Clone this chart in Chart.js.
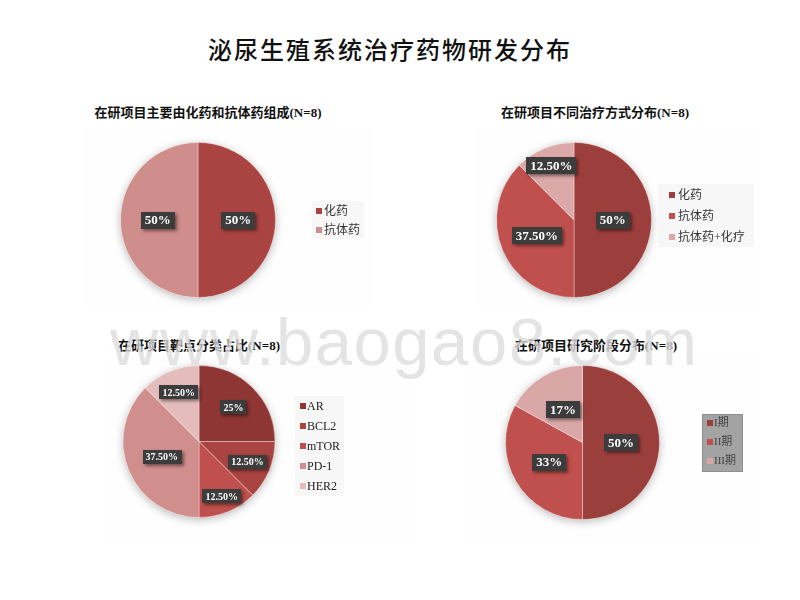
<!DOCTYPE html>
<html><head><meta charset="utf-8">
<script src="https://cdn.jsdelivr.net/npm/chart.js@4.4.0/dist/chart.umd.min.js"></script>
<style>
html,body{margin:0;padding:0;background:#fff;width:800px;height:600px;overflow:hidden;position:relative;font-family:"Liberation Serif","Noto Sans CJK SC",serif;}
.t{position:absolute;white-space:nowrap;transform:translateX(-50%);color:#111;}
.main{font-size:24px;letter-spacing:2px;font-weight:500;left:390px;top:31px;}
.sub{font-size:13px;font-weight:bold;}
canvas{position:absolute;}
.wm{position:absolute;left:110px;top:303px;font-family:"Liberation Sans",Arial,sans-serif;font-size:67px;color:rgba(220,220,220,0.78);letter-spacing:1.5px;white-space:nowrap;}
</style></head>
<body>
<div class="t main">泌尿生殖系统治疗药物研发分布</div>
<div class="t sub" style="left:208px;top:102px">在研项目主要由化药和抗体药组成(N=8)</div>
<div class="t sub" style="left:595px;top:102px">在研项目不同治疗方式分布(N=8)</div>
<div class="t sub" style="left:199px;top:335px">在研项目靶点分类占比(N=8)</div>
<div class="t sub" style="left:596px;top:335px">在研项目研究阶段分布(N=8)</div>
<canvas id="c1" width="290" height="180" style="left:83px;top:128px"></canvas>
<canvas id="c2" width="286" height="180" style="left:474px;top:128px"></canvas>
<canvas id="c3" width="300" height="190" style="left:110px;top:356px"></canvas>
<canvas id="c4" width="290" height="190" style="left:470px;top:356px"></canvas>
<div class="wm">www.baogao8.com</div>
<script>
// ---- data ----
const cats1 = ['化药', '抗体药'];
const vals1 = [50, 50];
const cats2 = ['化药', '抗体药', '抗体药+化疗'];
const vals2 = [50, 37.5, 12.5];
const cats3 = ['AR', 'BCL2', 'mTOR', 'PD-1', 'HER2'];
const vals3 = [25, 12.5, 12.5, 37.5, 12.5];
const cats4 = ['I期', 'II期', 'III期'];
const vals4 = [50, 33, 17];

function fmt(v){ return Number.isInteger(v) ? v + '%' : v.toFixed(2) + '%'; }

const bgPlugin = {
  id: 'bgp',
  beforeDraw(chart){
    const c = chart.ctx;
    c.save(); c.fillStyle = '#fefefe'; c.fillRect(0,0,chart.width,chart.height); c.restore();
  },
  beforeDatasetsDraw(chart){
    const arc = chart.getDatasetMeta(0).data[0];
    if(!arc) return;
    const c = chart.ctx;
    c.save();
    c.shadowColor = 'rgba(0,0,0,0.28)'; c.shadowBlur = 9; c.shadowOffsetX = 0; c.shadowOffsetY = 2;
    c.fillStyle = '#ffffff';
    c.beginPath(); c.arc(arc.x, arc.y, arc.outerRadius, 0, Math.PI*2); c.fill();
    c.restore();
  },
  afterDatasetsDraw(chart, args, opts){
    const c = chart.ctx;
    const meta = chart.getDatasetMeta(0);
    const ds = chart.data.datasets[0];
    c.save();
    c.font = 'bold ' + opts.fontSize + 'px "Liberation Serif", serif';
    c.textAlign = 'center'; c.textBaseline = 'middle';
    meta.data.forEach((a, i) => {
      const mid = (a.startAngle + a.endAngle) / 2;
      const f = opts.dist[i];
      const x = a.x + Math.cos(mid) * a.outerRadius * f;
      const y = a.y + Math.sin(mid) * a.outerRadius * f;
      const txt = fmt(ds.data[i]);
      const w = c.measureText(txt).width + opts.padX * 2;
      const h = opts.fontSize + opts.padY * 2;
      c.save();
      c.shadowColor = 'rgba(0,0,0,0.45)'; c.shadowBlur = 3; c.shadowOffsetX = 2; c.shadowOffsetY = 2;
      c.fillStyle = '#3c3c3c';
      c.fillRect(Math.round(x - w/2), Math.round(y - h/2), Math.round(w), Math.round(h));
      c.restore();
      c.fillStyle = '#ffffff';
      c.fillText(txt, x, y + 1);
    });
    c.restore();
    // legend
    const L = opts.legend;
    c.save();
    c.fillStyle = L.bg; c.fillRect(L.x, L.y, L.w, L.h);
    if(L.border){ c.strokeStyle = L.border; c.lineWidth = 1; c.strokeRect(L.x+0.5, L.y+0.5, L.w-1, L.h-1); }
    c.font = L.fontSize + 'px "Liberation Serif", "Noto Sans CJK SC", serif';
    c.textAlign = 'left'; c.textBaseline = 'middle';
    chart.data.labels.forEach((lab, i) => {
      const yy = L.y0 + i * L.gap;
      c.fillStyle = ds.backgroundColor[i];
      c.fillRect(L.mx, yy - L.ms/2, L.ms, L.ms);
      c.fillStyle = L.color;
      c.fillText(lab, L.tx, yy + 0.5);
    });
    c.restore();
  }
};

function make(id, labels, data, colors, pad, lab, legend){
  new Chart(document.getElementById(id), {
    type: 'pie',
    data: { labels: labels, datasets: [{ data: data, backgroundColor: colors, borderColor: 'rgba(255,255,255,0.35)', borderWidth: 1 }] },
    options: {
      responsive: false, animation: false, events: [],
      layout: { padding: pad },
      plugins: { legend: { display: false }, tooltip: { enabled: false },
        bgp: Object.assign({}, lab, { legend: legend }) }
    },
    plugins: [bgPlugin]
  });
}

make('c1', cats1, vals1, ['#A94442', '#CF8D8B'],
  {left:37, top:14, right:97, bottom:10},
  {fontSize:13, padX:4, padY:2, dist:[0.52, 0.52]},
  {x:229, y:73, w:52, h:38, bg:'#f7f7f7', color:'#333', fontSize:12, mx:233, ms:6, tx:241, y0:83, gap:19});

make('c2', cats2, vals2, ['#9B3E3C', '#C0504D', '#DBA9A8'],
  {left:22, top:14, right:108, bottom:10},
  {fontSize:13, padX:4, padY:2, dist:[0.5, 0.52, 0.76]},
  {x:184, y:56, w:96, h:63, bg:'#f7f7f7', color:'#333', fontSize:12, mx:195, ms:6, tx:204, y0:67, gap:21});

make('c3', cats3, vals3, ['#8E3634', '#A94442', '#C0504D', '#D08E8C', '#E3BCBB'],
  {left:12, top:9, right:134, bottom:28},
  {fontSize:10, padX:3, padY:2, dist:[0.64, 0.69, 0.78, 0.53, 0.7]},
  {x:185, y:40, w:49, h:100, bg:'#f7f7f7', color:'#222', fontSize:12, mx:190, ms:6, tx:197, y0:50, gap:20});

make('c4', cats4, vals4, ['#9B3F3D', '#C0504D', '#D9A7A6'],
  {left:35, top:9, right:100, bottom:26},
  {fontSize:13, padX:4, padY:2, dist:[0.5, 0.5, 0.5]},
  {x:232, y:58, w:41, h:58, bg:'#a3a3a3', border:'#8e8e8e', color:'#444', fontSize:11, mx:237, ms:6, tx:244, y0:67, gap:19});
</script>
</body></html>
